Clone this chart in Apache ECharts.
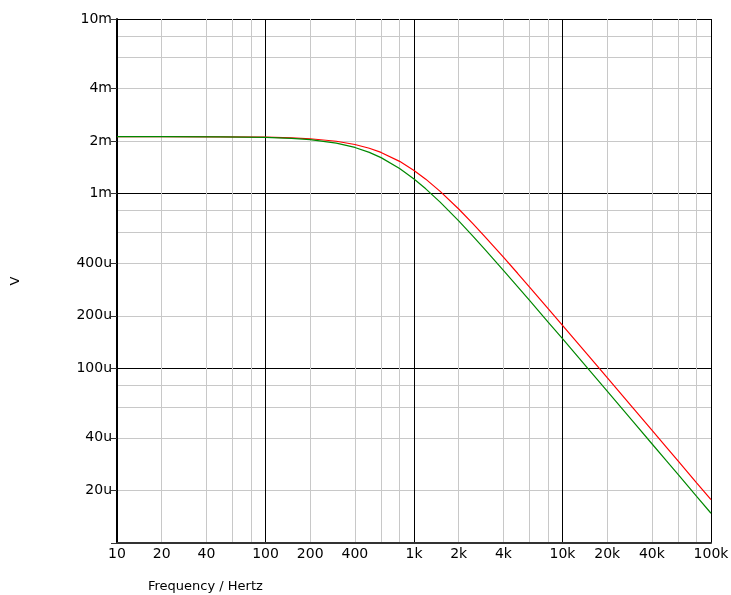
<!DOCTYPE html>
<html>
<head>
<meta charset="utf-8">
<script src="https://cdn.jsdelivr.net/npm/echarts@6/dist/echarts.min.js"></script>
<style>
  html, body { margin: 0; padding: 0; background: #fff; }
  #chart { width: 731px; height: 595px; }
</style>
</head>
<body>
<div id="chart"></div>
<script>
// frequency points (Hz) and the two traces (V)
const freqHz = [10, 20, 50, 100, 150, 200, 300, 400, 500, 600, 800, 1000, 1200, 1500, 2000,
  2500, 3000, 4000, 5000, 6000, 8000, 10000, 15000, 20000, 30000, 40000, 50000, 60000, 80000, 100000];
const vRed = [2.12e-3, 2.12e-3, 2.116e-3, 2.105e-3, 2.087e-3, 2.062e-3, 1.995e-3, 1.912e-3, 1.819e-3, 1.722e-3,
  1.531e-3, 1.359e-3, 1.211e-3, 1.031e-3, 0.817e-3, 0.672e-3, 0.568e-3, 0.433e-3, 0.349e-3, 0.292e-3,
  0.220e-3, 0.176e-3, 0.118e-3, 0.0884e-3, 0.0590e-3, 0.0443e-3, 0.0354e-3, 0.0295e-3, 0.0221e-3, 0.0177e-3];
const vGreen = [2.12e-3, 2.12e-3, 2.115e-3, 2.099e-3, 2.073e-3, 2.038e-3, 1.948e-3, 1.839e-3, 1.723e-3, 1.608e-3,
  1.394e-3, 1.213e-3, 1.066e-3, 0.894e-3, 0.699e-3, 0.570e-3, 0.480e-3, 0.364e-3, 0.293e-3, 0.245e-3,
  0.184e-3, 0.148e-3, 0.0986e-3, 0.0740e-3, 0.0493e-3, 0.0370e-3, 0.0296e-3, 0.0247e-3, 0.0185e-3, 0.0148e-3];

// grid and label positions
const xMinor = [10, 20, 40, 60, 80, 100, 200, 400, 600, 800, 1000, 2000, 4000, 6000, 8000,
  10000, 20000, 40000, 60000, 80000, 100000];
const xLabels = [10, 20, 40, 100, 200, 400, 1000, 2000, 4000, 10000, 20000, 40000, 100000];
const yMinor = [1e-5, 2e-5, 4e-5, 6e-5, 8e-5, 1e-4, 2e-4, 4e-4, 6e-4, 8e-4, 1e-3, 2e-3, 4e-3, 6e-3, 8e-3, 1e-2];
const yTicks = [1e-5, 2e-5, 4e-5, 1e-4, 2e-4, 4e-4, 1e-3, 2e-3, 4e-3, 1e-2];
const yLabels = [2e-5, 4e-5, 1e-4, 2e-4, 4e-4, 1e-3, 2e-3, 4e-3, 1e-2];

const FONT = 'DejaVu Sans';

function fmtHz(v) {
  return v >= 1000 ? Math.round(v / 1000) + 'k' : String(Math.round(v));
}
function fmtV(v) {
  return v >= 1e-3 ? Math.round(v * 1e3) + 'm' : Math.round(v * 1e6) + 'u';
}

let chart = echarts.init(document.getElementById('chart'), null, { renderer: 'canvas' });

let hidden = { show: false };
let xBase = { type: 'log', logBase: 10, min: 10, max: 100000, position: 'bottom', gridIndex: 0 };
let yBase = { type: 'log', logBase: 10, min: 1e-5, max: 1e-2, position: 'left', gridIndex: 0 };

let option = {
  animation: false,
  title: {
    text: 'Frequency / Hertz',
    left: 148,
    top: 580,
    padding: 0,
    textStyle: { fontFamily: FONT, fontSize: 13, fontWeight: 'normal', color: '#000' }
  },
  grid: { left: 117, right: 20, top: 19, bottom: 52, outerBoundsMode: 'none', containLabel: false },
  xAxis: [
    Object.assign({}, xBase, {
      axisLine: hidden, axisLabel: hidden,
      axisTick: { show: false, customValues: xMinor },
      splitLine: { show: true, lineStyle: { color: '#c8c8c8', width: 1 } }
    }),
    Object.assign({}, xBase, {
      axisLine: hidden, axisLabel: hidden, axisTick: hidden,
      splitLine: { show: true, lineStyle: { color: '#000', width: 1 } }
    }),
    Object.assign({}, xBase, {
      axisLine: { show: true, onZero: false, lineStyle: { color: '#333', width: 2 } },
      axisTick: { show: false, customValues: xLabels },
      axisLabel: {
        customValues: xLabels, margin: 4, formatter: fmtHz,
        fontFamily: FONT, fontSize: 14, color: '#000'
      },
      splitLine: hidden
    })
  ],
  yAxis: [
    Object.assign({}, yBase, {
      axisLine: hidden, axisLabel: hidden,
      axisTick: { show: false, customValues: yMinor },
      splitLine: { show: true, lineStyle: { color: '#c8c8c8', width: 1 } }
    }),
    Object.assign({}, yBase, {
      axisLine: hidden, axisLabel: hidden, axisTick: hidden,
      splitLine: { show: true, lineStyle: { color: '#000', width: 1 } }
    }),
    Object.assign({}, yBase, {
      name: 'V',
      nameLocation: 'middle',
      nameRotate: 90,
      nameGap: 95,
      nameTextStyle: { fontFamily: FONT, fontSize: 13, color: '#000' },
      axisLine: { show: true, onZero: false, lineStyle: { color: '#000', width: 2 } },
      axisTick: { show: true, length: 6, customValues: yTicks, lineStyle: { color: '#333' } },
      axisLabel: {
        customValues: yLabels, margin: 5, formatter: fmtV,
        fontFamily: FONT, fontSize: 14, color: '#000'
      },
      splitLine: hidden
    })
  ],
  series: [
    {
      name: 'red',
      type: 'line',
      xAxisIndex: 2,
      yAxisIndex: 2,
      showSymbol: false,
      smooth: false,
      lineStyle: { color: '#ff0000', width: 1.2 },
      data: freqHz.map((f, i) => [f, vRed[i]])
    },
    {
      name: 'green',
      type: 'line',
      xAxisIndex: 2,
      yAxisIndex: 2,
      showSymbol: false,
      smooth: false,
      lineStyle: { color: '#008800', width: 1.2 },
      data: freqHz.map((f, i) => [f, vGreen[i]])
    }
  ]
};

chart.setOption(option);
</script>
</body>
</html>
